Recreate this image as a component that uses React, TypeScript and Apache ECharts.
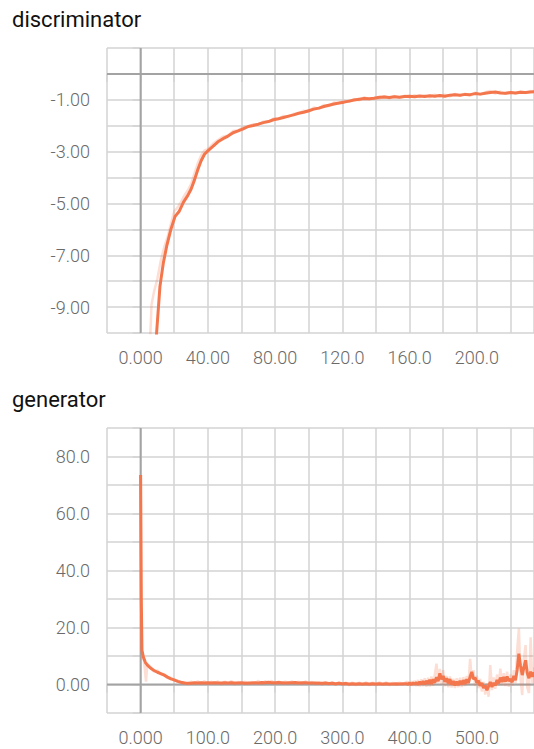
import React, { useEffect, useRef } from "react";
import * as echarts from "echarts";

// ---------- discriminator ----------
const D_HEAD_STEPS = [8, 9.5, 11.5, 13.5, 15.5, 18, 20.5, 23, 25.5, 28, 30, 32, 34, 36, 38];
const D_HEAD = [-11.5, -10, -8.2, -7.3, -6.65, -6.0, -5.5, -5.3, -4.95, -4.7, -4.45, -4.1, -3.7, -3.35, -3.1];
const D_BODY_START = 40;
const D_BODY_STEP = 3;
const D_SMOOTH = [
  -2.97, -2.8, -2.62, -2.5, -2.4, -2.27, -2.2, -2.12, -2.03, -1.99,
  -1.94, -1.88, -1.84, -1.77, -1.73, -1.68, -1.63, -1.58, -1.52, -1.48,
  -1.42, -1.36, -1.32, -1.26, -1.21, -1.16, -1.12, -1.09, -1.05, -1.01,
  -0.98, -0.95, -0.96, -0.94, -0.9, -0.89, -0.91, -0.88, -0.9, -0.87,
  -0.86, -0.88, -0.85, -0.87, -0.84, -0.86, -0.83, -0.86, -0.82, -0.8,
  -0.82, -0.79, -0.8, -0.76, -0.78, -0.75, -0.72, -0.7, -0.74, -0.75,
  -0.72, -0.74, -0.71, -0.72, -0.7, -0.69,
];

const D_RAW_STEPS = [5.5, 6.5, 8, 10, 12, 14, 16, 18, 20, 22, 24, 26, 28, 30, 32, 34, 36, 38, 40, 43, 46, 49, 52, 55, 58, 61, 64, 67, 70, 73, 76, 79, 82, 85, 88, 91, 94, 97, 100, 103, 106, 109, 112, 115, 118, 121, 124, 127, 130, 133, 136, 139, 142, 145, 148, 151, 154, 157, 160, 163, 166, 169, 172, 175, 178, 181, 184, 187, 190, 193, 196, 199, 202, 205, 208, 211, 214, 217, 220, 223, 226, 229, 232, 235];
const D_RAW = [-10.5, -8.9, -8.4, -7.9, -7.2, -6.7, -6.3, -5.8, -5.3, -5.15, -4.95, -4.7, -4.5, -4.25, -3.85, -3.45, -3.15, -2.95, -2.9, -2.7, -2.55, -2.42, -2.38, -2.2, -2.18, -2.06, -2.04, -1.94, -1.96, -1.84, -1.85, -1.72, -1.74, -1.62, -1.66, -1.54, -1.53, -1.42, -1.45, -1.3, -1.34, -1.2, -1.24, -1.1, -1.14, -1.04, -1.08, -0.97, -1.02, -0.9, -0.98, -0.92, -0.95, -0.86, -0.94, -0.85, -0.92, -0.84, -0.9, -0.82, -0.89, -0.83, -0.9, -0.8, -0.88, -0.8, -0.87, -0.77, -0.84, -0.76, -0.84, -0.72, -0.8, -0.71, -0.66, -0.76, -0.68, -0.77, -0.7, -0.76, -0.68, -0.74, -0.66, -0.72];

// ---------- generator ----------
const G_HEAD_STEPS = [0, 1, 2, 4, 7, 10];
const G_HEAD = [73.5, 30, 12, 9.7, 7.8, 6.8];
const G_RAW_HEAD_STEPS = [0, 1, 3, 5, 8, 10];
const G_RAW_HEAD = [73.5, 12, 9, 8.5, 1.0, 7.2];
const G_BODY_START = 15;
const G_BODY_STEP = 5;
const G_SMOOTH = [
  5.7, 4.9, 4.3, 3.8, 3.3, 2.6, 2.0, 1.6, 1.1, 0.8,
  0.55, 0.4, 0.45, 0.6, 0.5, 0.65, 0.55, 0.6, 0.5, 0.65,
  0.55, 0.5, 0.6, 0.55, 0.65, 0.5, 0.55, 0.6, 0.45, 0.55,
  0.5, 0.65, 0.55, 0.7, 0.6, 0.75, 0.65, 0.6, 0.7, 0.65,
  0.55, 0.65, 0.6, 0.7, 0.55, 0.65, 0.6, 0.55, 0.5, 0.55,
  0.45, 0.4, 0.5, 0.35, 0.45, 0.3, 0.4, 0.25, 0.35, 0.2,
  0.25, 0.15, 0.25, 0.2, 0.3, 0.2, 0.25, 0.15, 0.25, 0.2,
  0.3, 0.2, 0.15, 0.25, 0.2, 0.3, 0.25,
];
const G_RAW = [
  6.2, 4.5, 4.9, 3.5, 3.7, 2.3, 2.4, 1.3, 1.4, 0.5,
  0.9, 0.1, 1.0, 0.2, 1.1, 0.3, 1.2, 0.1, 1.0, 0.4,
  1.1, 0.0, 1.0, 0.3, 1.2, 0.0, 0.9, 0.4, 1.0, 0.1,
  0.9, 0.3, 1.3, 0.2, 1.2, 0.4, 1.3, 0.1, 1.1, 0.3,
  1.0, 0.2, 1.1, 0.3, 1.0, 0.1, 1.1, 0.2, 0.9, 0.1,
  0.9, -0.1, 0.8, 0.0, 0.9, -0.2, 0.8, -0.2, 0.7, -0.3,
  0.7, -0.3, 0.7, -0.2, 0.8, -0.3, 0.7, -0.3, 0.8, -0.2,
  0.8, -0.3, 0.6, -0.2, 0.7, -0.2, 0.9,
];
const G_TAIL_START = 397.5;
const G_TAIL_STEP = 2.5;
const G_TAIL_SMOOTH = [
  0.1, 0.5, 0.0, 0.6, 0.1, 0.7, 0.0, 0.9, 0.2, 1.1,
  0.1, 1.3, 0.3, 1.6, 0.2, 1.8, 0.6, 2.6, 1.2, 3.9,
  1.8, 3.0, 0.9, 2.2, 0.4, 1.9, 0.0, 1.2, -0.3, 1.0,
  -0.2, 1.3, 0.0, 1.5, 0.2, 1.8, 0.6, 2.8, 4.4, 1.9,
  2.4, 0.6, 1.3, -0.4, 0.5, -1.2, -0.4, -2.0, -0.6, 0.9,
  -0.9, 0.6, -0.3, 1.6, 0.4, 2.4, 0.9, 2.6, 1.0, 2.8,
  1.2, 2.0, 0.8, 3.0, 1.5, 5.2, 10.8, 6.5, 3.3, 6.0,
  8.5, 4.0, 2.2, 4.5, 2.7, 4.2, 2.5, 3.6,
];
const G_TAIL_RAW = [
  0.9, -0.4, 1.2, -0.5, 1.4, -0.6, 1.6, -0.7, 1.8, -0.6,
  2.2, -0.8, 2.4, -0.7, 2.8, -0.5, 3.5, 7.3, 0.5, 5.5,
  0.0, 5.0, -0.6, 3.0, -1.0, 2.8, -1.1, 2.0, -1.2, 2.2,
  -1.0, 2.4, -0.9, 2.6, -0.5, 3.0, 0.0, 9.0, 2.0, 5.0,
  -0.5, 3.0, -1.3, 2.0, -2.5, 1.0, -3.5, 0.5, -4.3, 6.8,
  -2.0, 2.5, -1.5, 3.5, -0.5, 5.6, -0.3, 4.0, -0.6, 4.5,
  -0.8, 3.5, -0.5, 5.0, 0.5, 12.0, 19.6, 2.0, -3.7, 9.0,
  13.8, -1.0, -3.0, 16.6, 0.5, 6.0, 1.0, 5.0,
];

// axes
const D_X = { min: -20, max: 234, interval: 20, labelEvery: 40 };
const D_Y = { min: -10, max: 1, interval: 1 };
const G_X = { min: -50, max: 585, interval: 50, labelEvery: 100 };
const G_Y = { min: -10, max: 90, interval: 10, labelEvery: 20 };

const TITLES = ["discriminator", "generator"];

const LINE = "#f3764c";
const RAW = "rgba(243,118,76,0.24)";
const GRID_C = "#d3d3d3";
const ZERO_C = "#a3a3a3";
const LABEL_FONT = { fontFamily: "Roboto", fontWeight: 300, fontSize: 18, color: "#6a6a6a" };

const zip = (xs: number[], ys: number[]) => xs.map((x, i) => [x, ys[i]]);
const steps = (start: number, step: number, n: number) => Array.from({ length: n }, (_, i) => start + i * step);

export default function App() {
  const ref = useRef<HTMLDivElement>(null);
  useEffect(() => {
    if (!ref.current) return;
    const chart = echarts.init(ref.current, undefined, { renderer: "svg" });

    const dSmooth = zip(D_HEAD_STEPS, D_HEAD).concat(zip(steps(D_BODY_START, D_BODY_STEP, D_SMOOTH.length), D_SMOOTH));
    const gSmooth = zip(G_HEAD_STEPS, G_HEAD)
      .concat(zip(steps(G_BODY_START, G_BODY_STEP, G_SMOOTH.length), G_SMOOTH))
      .concat(zip(steps(G_TAIL_START, G_TAIL_STEP, G_TAIL_SMOOTH.length), G_TAIL_SMOOTH));
    const gRaw = zip(G_RAW_HEAD_STEPS, G_RAW_HEAD)
      .concat(zip(steps(G_BODY_START, G_BODY_STEP, G_RAW.length), G_RAW))
      .concat(zip(steps(G_TAIL_START, G_TAIL_STEP, G_TAIL_RAW.length), G_TAIL_RAW));

    const xAxisBase = (gi: number, a: any) => ({
      type: "value",
      gridIndex: gi,
      min: a.min,
      max: a.max,
      interval: a.interval,
      axisLine: { show: false },
      axisTick: { show: true, length: 8, lineStyle: { color: GRID_C, width: 1.5 } },
      splitLine: { show: true, lineStyle: { color: GRID_C, width: 1.5 } },
      axisLabel: {
        ...LABEL_FONT,
        margin: 15,
        showMaxLabel: false,
        formatter: (v: number) => (Math.abs(v % a.labelEvery) < 1e-9 && v >= 0 ? v.toPrecision(4) : ""),
      },
    });
    const yAxisBase = (gi: number, a: any, show: (v: number) => boolean) => ({
      type: "value",
      gridIndex: gi,
      min: a.min,
      max: a.max,
      interval: a.interval,
      axisLine: { show: false },
      axisTick: { show: true, length: 8, lineStyle: { color: GRID_C, width: 1.5 } },
      splitLine: { show: true, lineStyle: { color: GRID_C, width: 1.5 } },
      axisLabel: {
        ...LABEL_FONT,
        margin: 17,
        formatter: (v: number) => (show(v) ? v.toPrecision(3) : ""),
      },
    });

    const zeroLines = (xi: number, xa: any, ya: any) => [
      {
        type: "line", xAxisIndex: xi, yAxisIndex: xi, z: 1, silent: true, symbol: "none",
        lineStyle: { color: ZERO_C, width: 2 },
        data: [[0, ya.min], [0, ya.max]],
      },
      {
        type: "line", xAxisIndex: xi, yAxisIndex: xi, z: 1, silent: true, symbol: "none",
        lineStyle: { color: ZERO_C, width: 2 },
        data: [[xa.min, 0], [xa.max, 0]],
      },
    ];

    chart.setOption({
      animation: false,
      grid: [
        { left: 107, top: 48, width: 427, height: 285 },
        { left: 107, top: 428, width: 427, height: 285 },
      ],
      xAxis: [xAxisBase(0, D_X), xAxisBase(1, G_X)],
      yAxis: [
        yAxisBase(0, D_Y, (v) => Math.abs(Math.round(v)) % 2 === 1 && v < 0),
        yAxisBase(1, G_Y, (v) => v >= 0 && Math.abs(v % G_Y.labelEvery) < 1e-9),
      ],
      graphic: [
        { type: "text", left: 12, top: 8, style: { text: TITLES[0], fontFamily: "Roboto", fontSize: 22, fill: "#111" } },
        { type: "text", left: 12, top: 388, style: { text: TITLES[1], fontFamily: "Roboto", fontSize: 22, fill: "#111" } },
      ],
      series: [
        ...zeroLines(0, D_X, D_Y),
        ...zeroLines(1, G_X, G_Y),
        {
          type: "line", xAxisIndex: 0, yAxisIndex: 0, z: 2, symbol: "none", silent: true,
          lineStyle: { color: RAW, width: 2.5 }, data: zip(D_RAW_STEPS, D_RAW),
        },
        {
          type: "line", xAxisIndex: 0, yAxisIndex: 0, z: 3, symbol: "none", silent: true,
          lineStyle: { color: LINE, width: 3 }, data: dSmooth,
        },
        {
          type: "line", xAxisIndex: 1, yAxisIndex: 1, z: 2, symbol: "none", silent: true,
          lineStyle: { color: RAW, width: 2.5 }, data: gRaw,
        },
        {
          type: "line", xAxisIndex: 1, yAxisIndex: 1, z: 3, symbol: "none", silent: true,
          lineStyle: { color: LINE, width: 3 }, data: gSmooth,
        },
      ],
    });
    return () => chart.dispose();
  }, []);
  return <div ref={ref} style={{ position: "absolute", left: 0, top: 0, width: 534, height: 749 }} />;
}
